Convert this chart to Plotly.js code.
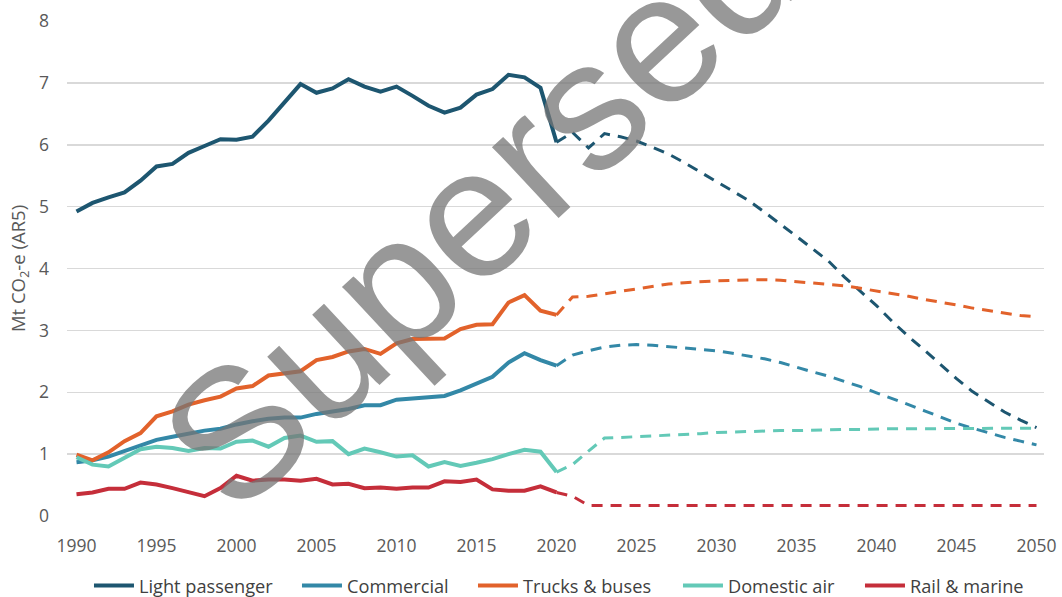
<!DOCTYPE html>
<html>
<head>
<meta charset="utf-8">
<script src="https://cdn.plot.ly/plotly-3.0.1.min.js"></script>
<style>
  html, body { margin: 0; padding: 0; background: #ffffff; }
  #chart { width: 1062px; height: 597px; }
</style>
</head>
<body>
<div id="chart"></div>
<script>
// ---- Data (Mt CO2-e, AR5) ----
var seriesNames = ["Light passenger", "Commercial", "Trucks & buses", "Domestic air", "Rail & marine"];

var histYears = [1990, 1991, 1992, 1993, 1994, 1995, 1996, 1997, 1998, 1999,
                 2000, 2001, 2002, 2003, 2004, 2005, 2006, 2007, 2008, 2009,
                 2010, 2011, 2012, 2013, 2014, 2015, 2016, 2017, 2018, 2019, 2020];

var projYears = [2020, 2021, 2022, 2023, 2024, 2025, 2026, 2027, 2028, 2029,
                 2030, 2031, 2032, 2033, 2034, 2035, 2036, 2037, 2038, 2039,
                 2040, 2041, 2042, 2043, 2044, 2045, 2046, 2047, 2048, 2049, 2050];

var lightPassengerHist = [4.92, 5.06, 5.15, 5.23, 5.42, 5.65, 5.69, 5.87, 5.98, 6.09,
                          6.08, 6.13, 6.39, 6.68, 6.98, 6.84, 6.91, 7.06, 6.94, 6.86,
                          6.94, 6.79, 6.63, 6.52, 6.60, 6.81, 6.90, 7.13, 7.09, 6.92, 6.04];
var commercialHist = [0.87, 0.90, 0.96, 1.05, 1.14, 1.23, 1.28, 1.33, 1.38, 1.41,
                      1.48, 1.53, 1.57, 1.59, 1.59, 1.65, 1.69, 1.73, 1.79, 1.79,
                      1.88, 1.90, 1.91, 1.94, 2.03, 2.14, 2.25, 2.48, 2.63, 2.52, 2.43];
var trucksHist = [0.99, 0.90, 1.03, 1.21, 1.34, 1.61, 1.69, 1.80, 1.87, 1.93,
                  2.06, 2.10, 2.27, 2.31, 2.34, 2.52, 2.57, 2.66, 2.70, 2.62,
                  2.79, 2.86, 2.86, 2.87, 3.02, 3.09, 3.10, 3.45, 3.57, 3.32, 3.25];
var domesticAirHist = [0.95, 0.83, 0.80, 0.94, 1.08, 1.12, 1.10, 1.05, 1.10, 1.09,
                       1.20, 1.22, 1.12, 1.26, 1.30, 1.20, 1.21, 1.00, 1.09, 1.03,
                       0.96, 0.98, 0.80, 0.87, 0.81, 0.86, 0.92, 1.00, 1.07, 1.04, 0.71];
var railMarineHist = [0.35, 0.38, 0.44, 0.44, 0.54, 0.51, 0.45, 0.39, 0.32, 0.45,
                      0.65, 0.57, 0.59, 0.59, 0.57, 0.60, 0.51, 0.52, 0.45, 0.46,
                      0.44, 0.46, 0.46, 0.56, 0.55, 0.59, 0.43, 0.41, 0.41, 0.48, 0.38];

var lightPassengerProj = [6.04, 6.20, 5.95, 6.18, 6.13, 6.06, 5.96, 5.85, 5.71, 5.56,
                          5.41, 5.26, 5.10, 4.91, 4.72, 4.52, 4.32, 4.12, 3.86, 3.63,
                          3.40, 3.14, 2.90, 2.68, 2.45, 2.22, 2.01, 1.85, 1.68, 1.55, 1.43];
var commercialProj = [2.43, 2.60, 2.67, 2.73, 2.76, 2.77, 2.76, 2.74, 2.72, 2.70,
                      2.67, 2.63, 2.59, 2.54, 2.48, 2.40, 2.33, 2.26, 2.18, 2.09,
                      1.99, 1.90, 1.80, 1.70, 1.60, 1.50, 1.42, 1.34, 1.27, 1.21, 1.15];
var trucksProj = [3.25, 3.54, 3.55, 3.59, 3.63, 3.68, 3.72, 3.75, 3.77, 3.79,
                  3.80, 3.81, 3.82, 3.82, 3.81, 3.79, 3.77, 3.75, 3.72, 3.68,
                  3.64, 3.60, 3.55, 3.50, 3.46, 3.41, 3.36, 3.32, 3.28, 3.24, 3.22];
var domesticAirProj = [0.71, 0.83, 1.05, 1.26, 1.27, 1.28, 1.29, 1.30, 1.32, 1.33,
                       1.35, 1.36, 1.37, 1.37, 1.38, 1.38, 1.39, 1.39, 1.40, 1.40,
                       1.41, 1.41, 1.41, 1.41, 1.42, 1.42, 1.42, 1.42, 1.42, 1.42, 1.42];
var railMarineProj = [0.38, 0.32, 0.17, 0.17, 0.17, 0.17, 0.17, 0.17, 0.17, 0.17,
                      0.17, 0.17, 0.17, 0.17, 0.17, 0.17, 0.17, 0.17, 0.17, 0.17,
                      0.17, 0.17, 0.17, 0.17, 0.17, 0.17, 0.17, 0.17, 0.17, 0.17, 0.17];

var xTickVals = [1990, 1995, 2000, 2005, 2010, 2015, 2020, 2025, 2030, 2035, 2040, 2045, 2050];
var yTickVals = [0, 1, 2, 3, 4, 5, 6, 7, 8];

var yTitle = "Mt CO<sub>2</sub>-e (AR5)";
var watermark = "Superseded";

// ---- Styles ----
var colors = ["#1D5670", "#3388A7", "#E2622B", "#63C9B7", "#C52E3A"];
var legendWidths = [153, 121, 150, 127, 112];
var histData = [lightPassengerHist, commercialHist, trucksHist, domesticAirHist, railMarineHist];
var projData = [lightPassengerProj, commercialProj, trucksProj, domesticAirProj, railMarineProj];

var baseFont = "Open Sans, sans-serif";

var traces = [];
for (var i = 0; i < seriesNames.length; i++) {
  traces.push({
    type: "scatter", mode: "lines",
    x: projYears, y: projData[i],
    name: seriesNames[i], showlegend: false, legendgroup: seriesNames[i],
    line: { color: colors[i], width: 3, dash: "11px,8px" },
    hoverinfo: "x+y+name"
  });
}
for (var j = 0; j < seriesNames.length; j++) {
  traces.push({
    type: "scatter", mode: "lines",
    x: histYears, y: histData[j],
    name: seriesNames[j], legendgroup: seriesNames[j],
    legendwidth: legendWidths[j],
    line: { color: colors[j], width: 4 },
    hoverinfo: "x+y+name"
  });
}

var layout = {
  width: 1062, height: 597,
  margin: { l: 67, r: 18, t: 20.7, b: 80.5, pad: 0 },
  paper_bgcolor: "#ffffff", plot_bgcolor: "#ffffff",
  showlegend: true,
  font: { family: baseFont, color: "#595959", size: 17 },
  xaxis: {
    range: [1989.406, 2050.469],
    tickvals: xTickVals,
    showgrid: false, zeroline: false, showline: false,
    ticks: "outside", ticklen: 13.5, tickcolor: "rgba(0,0,0,0)",
    tickfont: { family: baseFont, size: 17.5, color: "#595959" },
    fixedrange: true
  },
  yaxis: {
    range: [0, 8],
    tickvals: yTickVals,
    showgrid: true, gridcolor: "#D9D9D9", gridwidth: 1.5,
    zeroline: false, showline: false,
    ticks: "",
    ticklabelstandoff: 17,
    tickfont: { family: baseFont, size: 17.5, color: "#595959" },
    title: { text: yTitle, font: { family: baseFont, size: 18.5, color: "#595959" }, standoff: 8 },
    fixedrange: true
  },
  legend: {
    orientation: "h",
    x: 0.0225, xanchor: "left",
    yref: "container",
    y: 0.0189, yanchor: "middle",
    itemwidth: 40,
    font: { family: baseFont, size: 18.2, color: "#404040" },
    bgcolor: "rgba(0,0,0,0)",
    traceorder: "normal"
  },
  annotations: [{
    text: watermark,
    xref: "paper", yref: "paper",
    x: 0.498, y: 0.770,
    xanchor: "center", yanchor: "middle",
    showarrow: false,
    textangle: -43,
    font: { family: "Liberation Sans, Arial, sans-serif", size: 184, color: "rgba(118,118,118,0.75)" }
  }]
};

Plotly.newPlot("chart", traces, layout, { displayModeBar: false, staticPlot: true });
</script>
</body>
</html>
